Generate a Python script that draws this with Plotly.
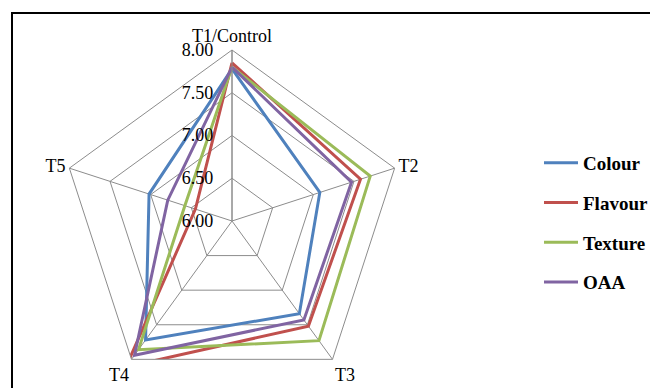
import plotly.graph_objects as go

categories = ["T1/Control", "T2", "T3", "T4", "T5"]
colour = [7.78, 7.08, 7.34, 7.72, 7.02]
flavour = [7.85, 7.58, 7.52, 8.11, 6.45]
texture = [7.80, 7.70, 7.73, 7.86, 6.58]
oaa = [7.80, 7.47, 7.43, 7.94, 6.79]
tick_vals = [6.0, 6.5, 7.0, 7.5, 8.0]
tick_text = ["6.00", "6.50", "7.00", "7.50", "8.00"]

series = [
    ("Colour", colour, "#4F81BD"),
    ("Flavour", flavour, "#C0504D"),
    ("Texture", texture, "#9BBB59"),
    ("OAA", oaa, "#8064A2"),
]

W, H = 658, 388
OFF = 8  # page body margin
fig = go.Figure()
for i, (name, vals, col) in enumerate(series):
    fig.add_trace(go.Scatterpolar(
        r=vals + vals[:1],
        theta=categories + categories[:1],
        mode="lines",
        name=name,
        legendgroup=f"g{i}",
        line=dict(color=col, width=3),
        cliponaxis=False,
    ))

cx, cy, rad = 232 - OFF, 221 - OFF, 171
fig.update_layout(
    width=W, height=H,
    margin=dict(l=0, r=0, t=0, b=0),
    paper_bgcolor="white",
    plot_bgcolor="white",
    font=dict(family="Liberation Serif", color="black", size=18),
    polar=dict(
        domain=dict(x=[(cx - rad) / W, (cx + rad) / W],
                    y=[(H - cy - rad) / H, (H - cy + rad) / H]),
        gridshape="linear",
        bgcolor="white",
        radialaxis=dict(
            range=[6, 8],
            tickvals=tick_vals,
            ticktext=tick_text,
            angle=90,
            tickangle=90,
            side="counterclockwise",
            showline=True,
            linecolor="#8c8c8c",
            linewidth=1,
            gridcolor="#8c8c8c",
            gridwidth=1,
            ticks="outside",
            ticklen=12,
            tickcolor="rgba(0,0,0,0)",
            tickfont=dict(family="Liberation Serif", size=18, color="black"),
        ),
        angularaxis=dict(
            rotation=90,
            direction="clockwise",
            linecolor="#8c8c8c",
            linewidth=1,
            gridcolor="#8c8c8c",
            gridwidth=1,
            ticks="",
            tickfont=dict(family="Liberation Serif", size=18, color="black"),
        ),
    ),
    showlegend=True,
    legend=dict(
        x=531 / W, y=1 - 136 / H, xanchor="left", yanchor="top",
        tracegroupgap=12,
        itemwidth=34,
        font=dict(family="Liberation Serif", size=19, color="black", weight="bold"),
        bgcolor="rgba(0,0,0,0)",
    ),
    shapes=[dict(type="rect", xref="paper", yref="paper",
                 x0=(12 - OFF) / W, x1=(655 - OFF) / W, y0=-0.05, y1=1 - (13 - OFF) / H,
                 line=dict(color="black", width=2))],
)
fig.write_html("out.html")
